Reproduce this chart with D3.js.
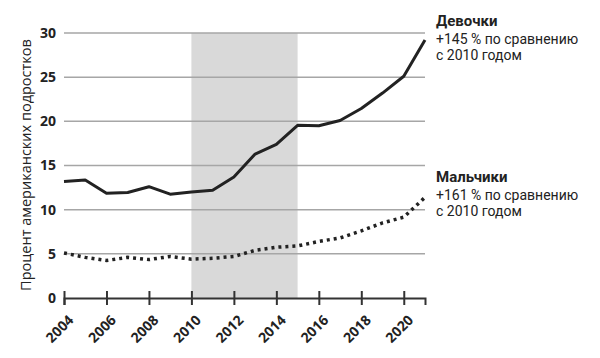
<!DOCTYPE html>
<html>
<head>
<meta charset="utf-8">
<script src="https://cdn.jsdelivr.net/npm/d3@7"></script>
<style>
  body { margin: 0; background: #fff; }
  text { font-family: "Open Sans", "Noto Sans", sans-serif; fill: #222; }
  text.note { font-family: Roboto, "Open Sans", sans-serif; }
</style>
</head>
<body>
<div id="content"></div>
<script>
// Screen dimensions
var w = 600;
var h = 358;

// Data
var years = [2004, 2005, 2006, 2007, 2008, 2009, 2010, 2011, 2012, 2013, 2014, 2015, 2016, 2017, 2018, 2019, 2020, 2021];
var girls = [13.2, 13.35, 11.85, 11.95, 12.6, 11.75, 12.0, 12.2, 13.7, 16.3, 17.4, 19.55, 19.5, 20.1, 21.45, 23.2, 25.1, 29.2];
var boys = [5.1, 4.6, 4.25, 4.6, 4.35, 4.7, 4.4, 4.5, 4.7, 5.4, 5.75, 5.9, 6.4, 6.8, 7.6, 8.5, 9.15, 11.4];
var yTicks = [0, 5, 10, 15, 20, 25, 30];
var xTicks = [2004, 2006, 2008, 2010, 2012, 2014, 2016, 2018, 2020];
var shaded = [2010, 2015];
var yLabel = "Процент американских подростков";
var notes = [
  { title: "Девочки", lines: ["+145 % по сравнению", "с 2010 годом"], top: 26 },
  { title: "Мальчики", lines: ["+161 % по сравнению", "с 2010 годом"], top: 182 }
];

var svg = d3.select("#content")
    .append("svg")
    .attr("width", w)
    .attr("height", h);

var x = d3.scaleLinear().domain([2004, 2021]).range([64, 425]);
var y = d3.scaleLinear().domain([0, 30]).range([298, 33]);

// Shaded period
svg.append("rect")
   .attr("x", x(shaded[0]))
   .attr("y", y(30))
   .attr("width", x(shaded[1]) - x(shaded[0]))
   .attr("height", y(0) - y(30))
   .attr("fill", "#d9d9d9");

// Grid lines
svg.append("g")
   .selectAll("line")
   .data(yTicks.filter(function(d) { return d > 0; }))
   .enter()
   .append("line")
   .attr("x1", x(2004))
   .attr("x2", x(2021))
   .attr("y1", function(d) { return y(d); })
   .attr("y2", function(d) { return y(d); })
   .attr("stroke", "#a6a6a6")
   .attr("stroke-width", 1.5);

// Y tick labels
svg.append("g")
   .selectAll("text")
   .data(yTicks)
   .enter()
   .append("text")
   .attr("x", 56)
   .attr("y", function(d) { return y(d); })
   .attr("dy", "0.35em")
   .attr("text-anchor", "end")
   .attr("font-size", 14)
   .attr("font-weight", "bold")
   .text(function(d) { return d; });

// X axis
var xAxis = d3.axisBottom(x)
    .tickValues(xTicks)
    .tickSize(7)
    .tickFormat(d3.format("d"));
var gx = svg.append("g")
   .attr("transform", "translate(0," + y(0) + ")")
   .call(xAxis);
gx.select(".domain").attr("stroke", "#333").attr("stroke-width", 2);
gx.selectAll(".tick line")
  .attr("y1", -7)
  .attr("stroke", "#333")
  .attr("stroke-width", 2);
gx.selectAll(".tick text")
  .attr("font-family", null)
  .attr("font-size", 14)
  .attr("font-weight", "bold")
  .attr("fill", "#222")
  .attr("text-anchor", "end")
  .attr("transform", "translate(10,23) rotate(-45)")
  .attr("y", 0)
  .attr("dy", 0);

// Y axis title
svg.append("text")
   .attr("transform", "translate(31,165) rotate(-90)")
   .attr("text-anchor", "middle")
   .attr("font-size", 14.5)
   .text(yLabel);

// Lines
var line = d3.line()
    .x(function(d, i) { return x(years[i]); })
    .y(function(d) { return y(d); });

svg.append("path")
   .datum(girls)
   .attr("d", line)
   .attr("fill", "none")
   .attr("stroke", "#222")
   .attr("stroke-width", 3)
   .attr("stroke-linejoin", "round");

svg.append("path")
   .datum(boys)
   .attr("d", line)
   .attr("fill", "none")
   .attr("stroke", "#222")
   .attr("stroke-width", 3.5)
   .attr("stroke-dasharray", "3,4");

// Notes on the right
notes.forEach(function(n) {
  svg.append("text")
     .attr("class", "note")
     .attr("x", 436)
     .attr("y", n.top)
     .attr("font-size", 15)
     .attr("font-weight", "bold")
     .text(n.title);
  n.lines.forEach(function(l, i) {
    svg.append("text")
       .attr("class", "note")
       .attr("x", 436)
       .attr("y", n.top + 18 + i * 16)
       .attr("font-size", 14)
       .text(l);
  });
});
</script>
</body>
</html>
